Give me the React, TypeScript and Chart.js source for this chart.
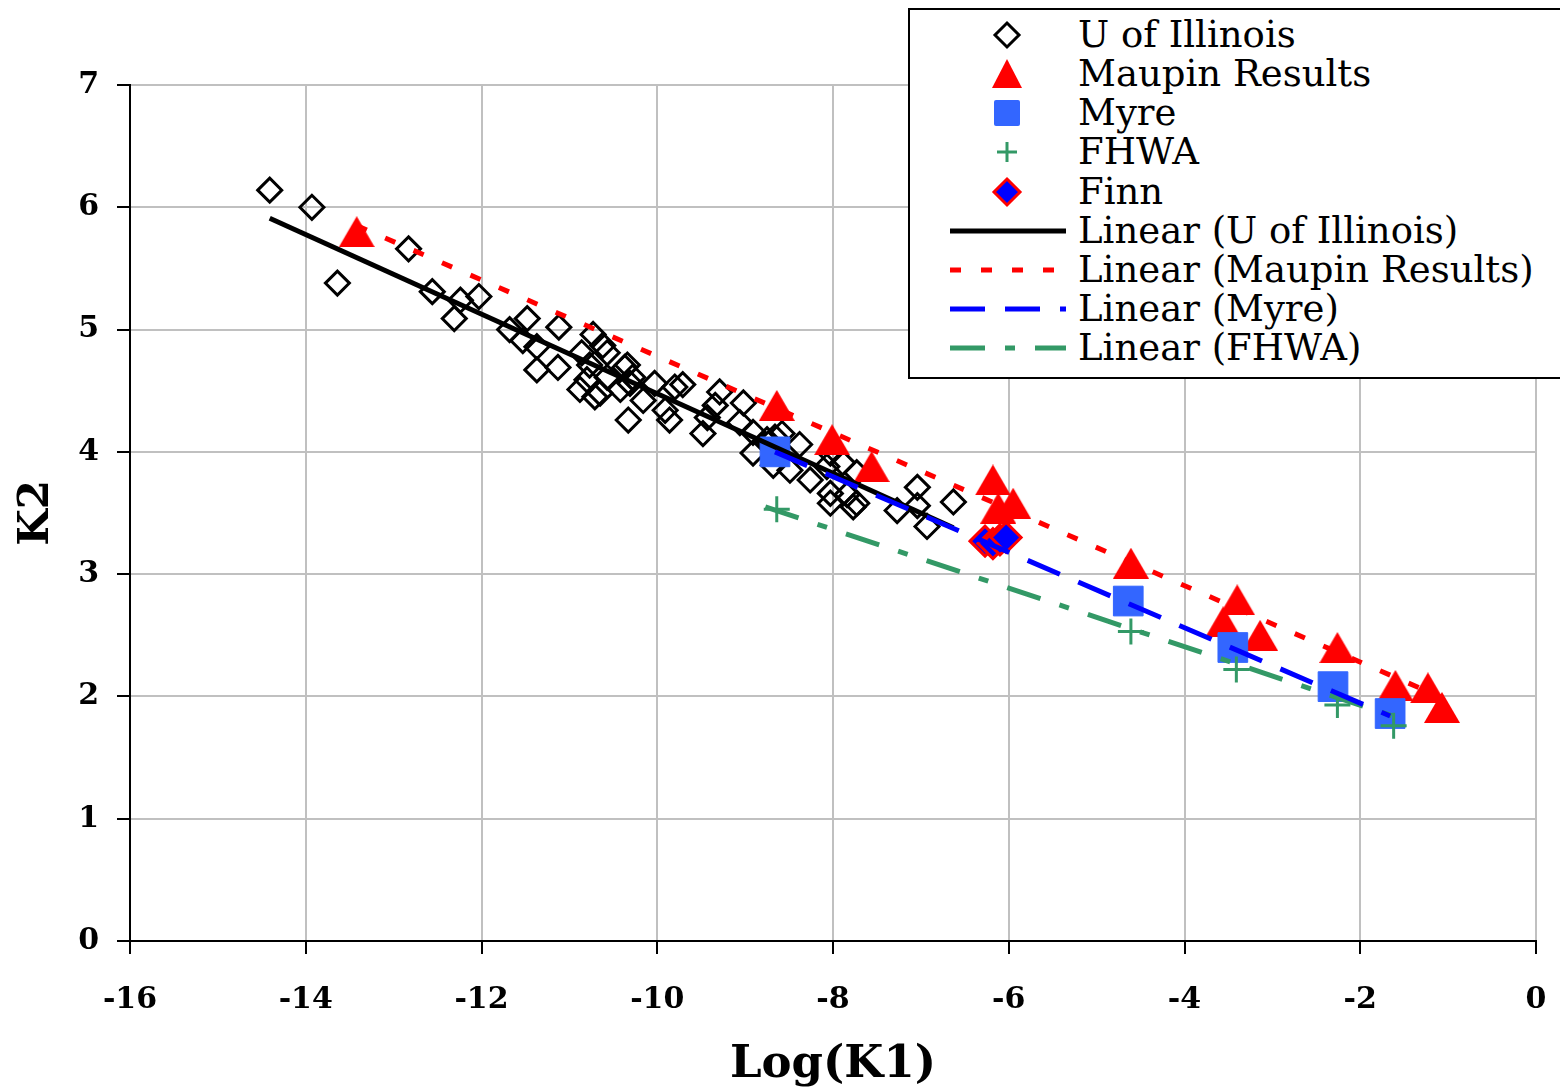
import React, { useEffect, useRef } from "react";
import { Chart, registerables } from "chart.js";
Chart.register(...registerables);

const xTickMin = -16;
const xTickMax = 0;
const xTickStep = 2;
const yTickMin = 0;
const yTickMax = 7;
const yTickStep = 1;

const illinoisX = [-14.41, -13.93, -13.64, -12.83, -12.56, -12.31, -12.24, -12.03, -11.48, -11.12, -11.68, -11.53, -10.73, -10.62, -11.37, -11.37, -11.13, -10.86, -10.77, -10.8, -10.34, -10.88, -10.71, -10.31, -10.57, -10.57, -10.37, -10.28, -10.03, -9.8, -10.42, -10.16, -9.91, -10.33, -9.86, -9.71, -9.29, -9.34, -9.43, -9.48, -9.06, -9.02, -10.65, -8.91, -8.75, -8.91, -8.58, -8.38, -8.68, -8.49, -8.26, -8.07, -8.03, -7.84, -7.73, -8.03, -7.89, -7.73, -8.03, -7.77, -7.04, -7.04, -7.27, -6.93, -6.63, -8.66];
const illinoisY = [6.14, 6.0, 5.38, 5.66, 5.31, 5.09, 5.24, 5.27, 5.09, 5.02, 5.0, 4.91, 4.96, 4.87, 4.86, 4.67, 4.69, 4.81, 4.71, 4.59, 4.71, 4.51, 4.45, 4.56, 4.61, 4.81, 4.69, 4.61, 4.56, 4.53, 4.51, 4.42, 4.34, 4.26, 4.26, 4.55, 4.49, 4.38, 4.28, 4.15, 4.24, 4.4, 4.48, 4.16, 4.1, 3.99, 4.15, 4.06, 3.89, 3.85, 3.77, 3.88, 3.66, 3.65, 3.58, 3.99, 3.91, 3.83, 3.58, 3.55, 3.71, 3.56, 3.52, 3.39, 3.59, 4.12];

const maupinX = [-13.42, -8.64, -8.01, -7.56, -6.18, -6.12, -5.95, -4.61, -3.4, -3.56, -3.14, -2.26, -1.6, -1.23, -1.07];
const maupinY = [5.8, 4.38, 4.1, 3.88, 3.77, 3.54, 3.58, 3.09, 2.79, 2.61, 2.5, 2.4, 2.09, 2.07, 1.91];

const myreX = [-8.66, -4.64, -3.45, -2.31, -1.66];
const myreY = [4.0, 2.78, 2.4, 2.08, 1.86];

const fhwaX = [-8.64, -4.61, -3.41, -2.26, -1.62];
const fhwaY = [3.53, 2.53, 2.22, 1.93, 1.76];

const finnX = [-6.27, -6.18, -6.1, -6.03];
const finnY = [3.27, 3.25, 3.28, 3.3];

const trendIllinoisX = [-14.41, -6.63];
const trendIllinoisY = [5.91, 3.38];
const trendMaupinX = [-13.42, -1.07];
const trendMaupinY = [5.85, 1.99];
const trendMyreX = [-8.66, -1.66];
const trendMyreY = [4.0, 1.84];
const trendFhwaX = [-8.77, -1.55];
const trendFhwaY = [3.55, 1.82];

const legendLabels = [
  "U of Illinois",
  "Maupin Results",
  "Myre",
  "FHWA",
  "Finn",
  "Linear (U of Illinois)",
  "Linear (Maupin Results)",
  "Linear (Myre)",
  "Linear (FHWA)",
];

const RED = "#FF0000";
const MYRE_FILL = "#3366FF";
const BLUE = "#0000FF";
const GREEN = "#339966";
const GRID = "#C0C0C0";
const FONT = "'DejaVu Serif', serif";

const pts = (xs: number[], ys: number[]) => xs.map((x, i) => ({ x, y: ys[i] }));

function makeTriangle(w: number, h: number): HTMLCanvasElement {
  const c = document.createElement("canvas");
  c.width = w;
  c.height = h;
  const ctx = c.getContext("2d")!;
  ctx.fillStyle = RED;
  ctx.beginPath();
  ctx.moveTo(w / 2, 0);
  ctx.lineTo(w, h);
  ctx.lineTo(0, h);
  ctx.closePath();
  ctx.fill();
  return c;
}

function LegendMarker({ i }: { i: number }) {
  const s = { position: "absolute" as const, left: 0, top: 0 };
  switch (i) {
    case 0:
      return (
        <svg width={116} height={36} style={s}>
          <polygon points="57,6 69,18 57,30 45,18" fill="white" stroke="black" strokeWidth={3} />
        </svg>
      );
    case 1:
      return (
        <svg width={116} height={36} style={s}>
          <polygon points="57,3 72,32 42,32" fill={RED} />
        </svg>
      );
    case 2:
      return (
        <svg width={116} height={36} style={s}>
          <rect x={44} y={5} width={26} height={26} rx={2} fill={MYRE_FILL} />
        </svg>
      );
    case 3:
      return (
        <svg width={116} height={36} style={s}>
          <line x1={47} y1={18} x2={67} y2={18} stroke={GREEN} strokeWidth={3} />
          <line x1={57} y1={8} x2={57} y2={28} stroke={GREEN} strokeWidth={3} />
        </svg>
      );
    case 4:
      return (
        <svg width={116} height={36} style={s}>
          <polygon points="57,5 70,18 57,31 44,18" fill={BLUE} stroke={RED} strokeWidth={3} />
        </svg>
      );
    case 5:
      return (
        <svg width={116} height={36} style={s}>
          <line x1={0} y1={18} x2={116} y2={18} stroke="black" strokeWidth={5} />
        </svg>
      );
    case 6:
      return (
        <svg width={116} height={36} style={s}>
          <line x1={0} y1={18} x2={116} y2={18} stroke={RED} strokeWidth={5} strokeDasharray="11 20" />
        </svg>
      );
    case 7:
      return (
        <svg width={116} height={36} style={s}>
          <line x1={0} y1={18} x2={116} y2={18} stroke={BLUE} strokeWidth={5} strokeDasharray="35 20" />
        </svg>
      );
    default:
      return (
        <svg width={116} height={36} style={s}>
          <line x1={0} y1={18} x2={116} y2={18} stroke={GREEN} strokeWidth={5} strokeDasharray="35 20 10 20" />
        </svg>
      );
  }
}

export default function App() {
  const ref = useRef<HTMLCanvasElement>(null);

  useEffect(() => {
    if (!ref.current) return;
    const tri = makeTriangle(36, 31);
    const lineDs = (label: string, xs: number[], ys: number[], color: string, width: number, dash: number[]) => ({
      type: "line" as const,
      label,
      data: pts(xs, ys),
      borderColor: color,
      backgroundColor: color,
      borderWidth: width,
      borderDash: dash,
      borderCapStyle: "butt" as const,
      pointRadius: 0,
      showLine: true,
      fill: false,
      tension: 0,
    });
    const chart = new Chart(ref.current, {
      type: "scatter",
      data: {
        datasets: [
          lineDs("Linear (Myre)", trendMyreX, trendMyreY, BLUE, 5, [35, 20]),
          lineDs("Linear (FHWA)", trendFhwaX, trendFhwaY, GREEN, 5, [35, 20, 10, 20]),
          lineDs("Linear (Maupin Results)", trendMaupinX, trendMaupinY, RED, 5, [11, 20]),
          lineDs("Linear (U of Illinois)", trendIllinoisX, trendIllinoisY, "black", 5, []),
          {
            label: "Finn",
            data: pts(finnX, finnY),
            pointStyle: "rectRot",
            pointRadius: 15,
            pointBackgroundColor: BLUE,
            pointBorderColor: RED,
            pointBorderWidth: 3,
          },
          {
            label: "FHWA",
            data: pts(fhwaX, fhwaY),
            pointStyle: "cross",
            pointRadius: 13,
            pointBorderColor: GREEN,
            pointBorderWidth: 3,
          },
          {
            label: "Myre",
            data: pts(myreX, myreY),
            pointStyle: "rect",
            pointRadius: 21,
            pointBackgroundColor: MYRE_FILL,
            pointBorderColor: MYRE_FILL,
            pointBorderWidth: 1,
          },
          {
            label: "Maupin Results",
            data: pts(maupinX, maupinY),
            pointStyle: tri,
            pointRadius: 18,
          },
          {
            label: "U of Illinois",
            data: pts(illinoisX, illinoisY),
            pointStyle: "rectRot",
            pointRadius: 12,
            pointBackgroundColor: "rgba(255,255,255,0)",
            pointBorderColor: "black",
            pointBorderWidth: 3,
          },
        ] as any,
      },
      options: {
        animation: false,
        responsive: false,
        devicePixelRatio: 1,
        layout: { padding: { top: 85, right: 24, left: 0, bottom: 0 } },
        plugins: { legend: { display: false }, tooltip: { enabled: false } },
        scales: {
          x: {
            type: "linear",
            min: xTickMin,
            max: xTickMax,
            ticks: {
              stepSize: xTickStep,
              color: "black",
              font: { family: FONT, size: 30, weight: "bold" },
              padding: 28,
            },
            grid: { color: GRID, lineWidth: 2, tickColor: "black", tickLength: 13, tickWidth: 2 },
            border: { color: "black", width: 2 },
            title: {
              display: true,
              text: "Log(K1)",
              color: "black",
              font: { family: FONT, size: 45, weight: "bold", lineHeight: 1.0 },
              padding: { top: 0, bottom: 0 },
            },
            afterFit: (s: any) => {
              s.height = 147;
              s.paddingLeft = 0;
              s.paddingRight = 0;
            },
          },
          y: {
            type: "linear",
            min: yTickMin,
            max: yTickMax,
            ticks: {
              stepSize: yTickStep,
              color: "black",
              font: { family: FONT, size: 30, weight: "bold" },
              padding: 18,
            },
            grid: { color: GRID, lineWidth: 2, tickColor: "black", tickLength: 13, tickWidth: 2 },
            border: { color: "black", width: 2 },
            title: {
              display: true,
              text: "K2",
              color: "black",
              font: { family: FONT, size: 42, weight: "bold", lineHeight: 1.0 },
              padding: { top: 16, bottom: 0 },
            },
            afterFit: (s: any) => {
              s.width = 130;
              s.paddingTop = 0;
              s.paddingBottom = 0;
            },
          },
        },
      } as any,
    });
    return () => chart.destroy();
  }, []);

  return (
    <div style={{ position: "absolute", left: 0, top: 0, width: 1560, height: 1088, background: "white", overflow: "hidden" }}>
      <canvas ref={ref} width={1560} height={1088} style={{ position: "absolute", left: 0, top: 0, width: 1560, height: 1088 }} />
      <div
        style={{
          position: "absolute",
          left: 908,
          top: 8,
          width: 660,
          height: 367,
          border: "2px solid black",
          background: "white",
          boxSizing: "content-box",
        }}
      >
        {legendLabels.map((lab, i) => (
          <div key={lab} style={{ position: "absolute", left: 0, top: 7 + i * 39.15, height: 36, width: 660 }}>
            <div style={{ position: "absolute", left: 40, top: 0, width: 116, height: 36 }}>
              <LegendMarker i={i} />
            </div>
            <div
              style={{
                position: "absolute",
                left: 168,
                top: 0,
                height: 36,
                lineHeight: "36px",
                fontFamily: FONT,
                fontSize: 37,
                color: "black",
                whiteSpace: "nowrap",
              }}
            >
              {lab}
            </div>
          </div>
        ))}
      </div>
    </div>
  );
}
